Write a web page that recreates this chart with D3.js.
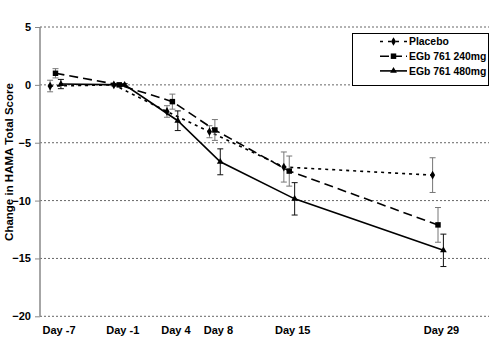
<!DOCTYPE html>
<html><head><meta charset="utf-8">
<script src="https://cdn.jsdelivr.net/npm/d3@7"></script>
<style>
body{margin:0;background:#fff;}
text{font-family:"Liberation Sans",Arial,sans-serif;font-weight:bold;fill:#000;}
</style></head><body>
<svg id="c" width="490" height="356"></svg>
<script>
const days = [-7, -1, 4, 8, 15, 29];
const dayLabels = ["Day -7", "Day -1", "Day 4", "Day 8", "Day 15", "Day 29"];
const yTicks = [5, 0, -5, -10, -15, -20];
const seriesNames = ["Placebo", "EGb 761 240mg", "EGb 761 480mg"];
const placebo = [-0.1, 0.0, -2.3, -4.05, -7.1, -7.8];
const placeboErr = [0.5, 0.1, 0.5, 0.52, 1.3, 1.5];
const egb240 = [1.0, 0.0, -1.45, -3.9, -7.45, -12.1];
const egb240Err = [0.4, 0.1, 0.65, 0.9, 1.3, 1.5];
const egb480 = [0.07, 0.0, -3.1, -6.65, -9.85, -14.3];
const egb480Err = [0.4, 0.1, 0.85, 1.12, 1.4, 1.4];

const svg = d3.select("#c");
const x = d3.scaleLinear().domain([-7, 29]).range([55.5, 438]);
const y = d3.scaleLinear().domain([-20, 5]).range([316.3, 27]);

// gridlines
svg.append("g").selectAll("line").data(yTicks).join("line")
  .attr("x1", 40).attr("x2", 489)
  .attr("y1", d => y(d)).attr("y2", d => y(d))
  .attr("stroke", "#666").attr("stroke-width", 1)
  .attr("stroke-dasharray", "2,2");

// y axis
const yAxis = d3.axisLeft(y).tickValues(yTicks).tickSize(5).tickPadding(4).tickFormat(d3.format("d"));
const ga = svg.append("g").attr("transform", "translate(40,0)").call(yAxis);
ga.select(".domain").attr("stroke", "#888").attr("stroke-width", 1.5).attr("d", `M0,${y(5)}V${y(-20)}`);
ga.selectAll(".tick line").attr("stroke", "#888");
ga.selectAll(".tick text").style("font-size", "11px").style("font-family", '"Liberation Sans",Arial,sans-serif').style("font-weight", "bold").attr("fill", "#000");

// x labels
const xAxis = d3.axisBottom(x).tickValues(days).tickSize(0).tickPadding(0).tickFormat((d, i) => dayLabels[i]);
const gx = svg.append("g").attr("transform", "translate(3,326)").call(xAxis);
gx.select(".domain").remove();
gx.selectAll(".tick text").style("font-size", "11px").style("font-family", '"Liberation Sans",Arial,sans-serif').style("font-weight", "bold").attr("fill", "#000");

// y title
svg.append("text").attr("transform", `translate(13,${162}) rotate(-90)`)
  .attr("text-anchor", "middle").style("font-size", "11.5px").text("Change in HAMA Total Score");

const series = [
  {name: seriesNames[0], vals: placebo, err: placeboErr, dash: "3,4", off: -5.4, errCol: "#777", marker: "diamond"},
  {name: seriesNames[1], vals: egb240, err: egb240Err, dash: "9,5", off: 0, errCol: "#777", marker: "square"},
  {name: seriesNames[2], vals: egb480, err: egb480Err, dash: null, off: 5.4, errCol: "#111", marker: "triangle"}
];
const symType = {diamond: d3.symbolDiamond, square: d3.symbolSquare, triangle: d3.symbolTriangle};
const symSize = {diamond: 22, square: 30, triangle: 20};

series.forEach(s => {
  const pts = days.map((d, i) => ({px: x(d) + s.off, v: s.vals[i], e: s.err[i]}));
  const g = svg.append("g");
  // error bars
  pts.forEach(p => {
    g.append("line").attr("x1", p.px).attr("x2", p.px).attr("y1", y(p.v + p.e)).attr("y2", y(p.v - p.e)).attr("stroke", s.errCol).attr("stroke-width", 1);
    [p.v + p.e, p.v - p.e].forEach(v => g.append("line").attr("x1", p.px - 3).attr("x2", p.px + 3).attr("y1", y(v)).attr("y2", y(v)).attr("stroke", s.errCol).attr("stroke-width", 1));
  });
  const line = d3.line().x(p => p.px).y(p => y(p.v));
  g.append("path").datum(pts).attr("d", line).attr("fill", "none").attr("stroke", "#000").attr("stroke-width", 1.6)
    .attr("stroke-dasharray", s.dash);
  g.selectAll("path.m").data(pts).join("path").attr("class", "m")
    .attr("transform", p => `translate(${p.px},${y(p.v)})`)
    .attr("d", d3.symbol().type(symType[s.marker]).size(symSize[s.marker])).attr("fill", "#000");
});

// legend
const lg = svg.append("g");
lg.append("rect").attr("x", 352.5).attr("y", 33.5).attr("width", 136).attr("height", 52).attr("fill", "#fff").attr("stroke", "#000").attr("stroke-width", 1);
series.forEach((s, i) => {
  const ly = 41.5 + i * 14.7;
  lg.append("line").attr("x1", 380).attr("x2", 407).attr("y1", ly).attr("y2", ly).attr("stroke", "#000").attr("stroke-width", 1.6)
    .attr("stroke-dasharray", s.dash ? (i === 0 ? "3,5" : "9,4") : null);
  lg.append("path").attr("transform", `translate(393.5,${ly})`).attr("d", d3.symbol().type(symType[s.marker]).size(symSize[s.marker])).attr("fill", "#000");
  lg.append("text").attr("x", 409).attr("y", ly + 3.8).style("font-size", "10.4px").text(s.name);
});
</script></body></html>
